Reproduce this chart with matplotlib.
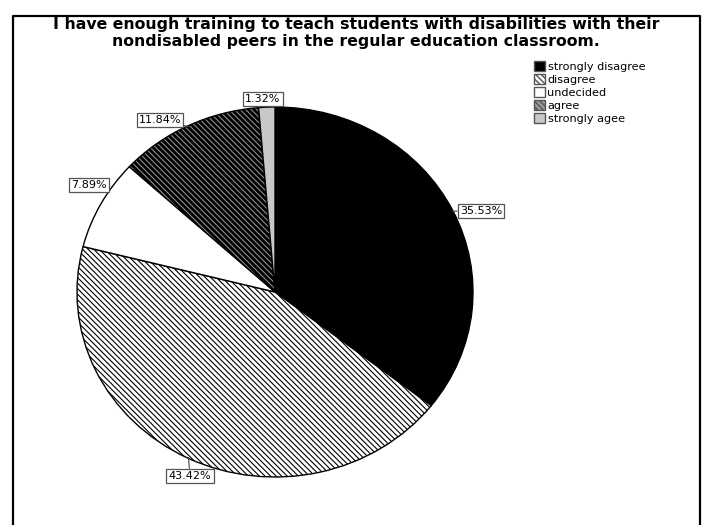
import numpy as np
import matplotlib
matplotlib.use("Agg")
import matplotlib.pyplot as plt
from matplotlib.lines import Line2D

# Survey responses (percent of respondents)
categories = ["strongly disagree", "disagree", "undecided", "agree", "strongly agee"]
percents = [35.53, 43.42, 7.89, 11.84, 1.32]

title = ("I have enough training to teach students with disabilities with their\n"
         "nondisabled peers in the regular education classroom.")

# Wedge styling
faces = ["#000000", "#ffffff", "#ffffff", "#9a9a9a", "#c8c8c8"]
hatches = [None, "\\" * 6, None, "\\" * 6, None]
hatch_widths = [1.0, 0.8, 1.0, 2.1, 1.0]

# Label box centres in figure pixels (x from left, y from top)
label_xy = [(481, 211), (190, 476), (89, 185), (160, 120), (263, 99)]
leaders = [True, True, False, True, False]

W, H = 712, 525
fig = plt.figure(figsize=(W / 100, H / 100), dpi=100)
fig.patch.set_facecolor("white")

# Pie axes: spans 77..473 px horizontally, 107..477 px vertically
pl, pr, pt, pb = 77, 473, 107, 477
ax = fig.add_axes([pl / W, 1 - pb / H, (pr - pl) / W, (pb - pt) / H])
wedges, _ = ax.pie(percents, startangle=90, counterclock=False, colors=faces,
                   wedgeprops=dict(edgecolor="black", linewidth=1.0))
for w, h, lw in zip(wedges, hatches, hatch_widths):
    if h:
        w.set_hatch(h)
        if hasattr(w, "set_hatch_linewidth"):
            w.set_hatch_linewidth(lw)
ax.set_aspect("auto")
ax.set_xlim(-1, 1)
ax.set_ylim(-1, 1)
ax.axis("off")

# Overlay in pixel coordinates for frame, title and labels
ov = fig.add_axes([0, 0, 1, 1], zorder=5)
ov.set_xlim(0, W)
ov.set_ylim(H, 0)
ov.axis("off")
ov.patch.set_alpha(0)

# Outer frame (open at the bottom)
ov.add_line(Line2D([12.5, 12.5, 700, 700], [H + 5, 15.5, 15.5, H + 5],
                   color="black", lw=1.6))

ov.text(356, 33, title, ha="center", va="center", fontsize=11.3,
        fontweight="bold", linespacing=1.1)

# Percent labels, some with short leaders to the rim
theta = 90.0
for pct, (lx, ly), lead in zip(percents, label_xy, leaders):
    span = pct / 100 * 360
    mid = np.deg2rad(theta - span / 2)
    theta -= span
    arrow = dict(arrowstyle="-", color="#444444", lw=0.8, shrinkA=0, shrinkB=0) if lead else None
    ov.annotate(f"{pct:.2f}%", xy=(0.995 * np.cos(mid), 0.995 * np.sin(mid)),
                xycoords=ax.transData, xytext=(lx, ly), textcoords="data",
                ha="center", va="center", fontsize=8,
                bbox=dict(boxstyle="square,pad=0.2", fc="white", ec="#555555", lw=0.9),
                arrowprops=arrow)

leg = fig.legend(wedges, categories, loc="upper left",
                 bbox_to_anchor=(534 / W, 1 - 61 / H), frameon=False,
                 fontsize=8.1, handlelength=0.95, handleheight=0.95,
                 handletextpad=0.25, labelspacing=0.2, borderpad=0,
                 borderaxespad=0)
for hnd in leg.legend_handles:
    hnd.set_edgecolor("#555555")
    hnd.set_linewidth(1.0)

fig.savefig("out.png", dpi=100)
